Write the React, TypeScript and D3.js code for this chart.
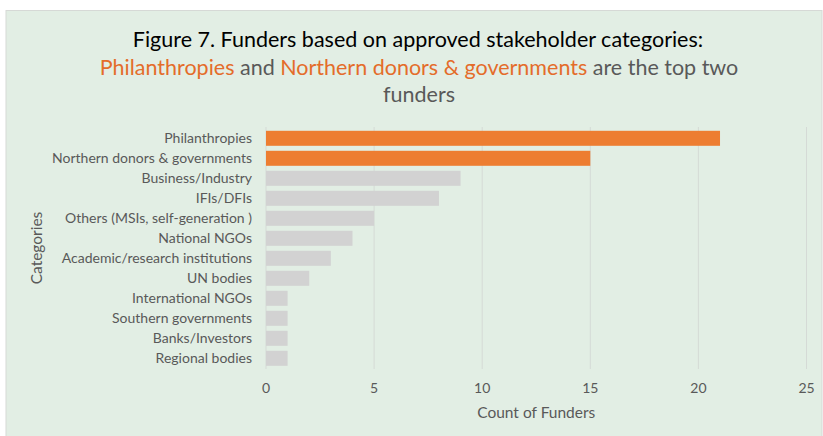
import React from "react";
import { scaleLinear, scaleBand } from "d3";

const categories = [
  "Philanthropies",
  "Northern donors & governments",
  "Business/Industry",
  "IFIs/DFIs",
  "Others (MSIs, self-generation )",
  "National NGOs",
  "Academic/research institutions",
  "UN bodies",
  "International NGOs",
  "Southern governments",
  "Banks/Investors",
  "Regional bodies",
];
const funders = [21, 15, 9, 8, 5, 4, 3, 2, 1, 1, 1, 1];
const highlighted = ["Philanthropies", "Northern donors & governments"];
const xTicks = [0, 5, 10, 15, 20, 25];

const W = 823;
const H = 436;
const FONT = "Lato, 'Open Sans', sans-serif";
const GREY_TEXT = "#595959";
const ORANGE = "#ED7D31";

const App = () => {
  const x = scaleLinear().domain([0, 25]).range([266, 806.5]);
  const y = scaleBand()
    .domain(categories)
    .range([128.3, 368.3])
    .paddingInner(0.25)
    .paddingOuter(0.125);

  return (
    <svg
      width={W}
      height={H}
      style={{ position: "absolute", left: 0, top: 0 }}
      fontFamily={FONT}
    >
      <rect x={0} y={0} width={W} height={H} fill="#fff" />
      <rect
        x={6}
        y={10.5}
        width={816}
        height={430}
        fill="#E2EEE4"
        stroke="#D6D9D6"
        strokeWidth={1}
      />

      {/* title */}
      <text x={418} y={47} textAnchor="middle" fontSize={21.5} fill="#000">
        Figure 7. Funders based on approved stakeholder categories:
      </text>
      <text x={419} y={75} textAnchor="middle" fontSize={21.5} fill={GREY_TEXT}>
        <tspan fill="#E46C2A">Philanthropies</tspan> and{" "}
        <tspan fill="#E46C2A">Northern donors &amp; governments</tspan> are the
        top two
      </text>
      <text x={419} y={102} textAnchor="middle" fontSize={21.5} fill={GREY_TEXT}>
        funders
      </text>

      {/* gridlines */}
      {xTicks.map((t) => (
        <line
          key={t}
          x1={x(t)}
          x2={x(t)}
          y1={127}
          y2={369}
          stroke="#D5DAD6"
          strokeWidth={1}
        />
      ))}

      {/* bars */}
      {categories.map((c, i) => (
        <rect
          key={c}
          x={x(0)}
          y={y(c)}
          width={x(funders[i]) - x(0)}
          height={y.bandwidth()}
          fill={highlighted.includes(c) ? ORANGE : "#D2D2D2"}
        />
      ))}

      {/* category labels */}
      {categories.map((c) => (
        <text
          key={c}
          x={252}
          y={(y(c) ?? 0) + y.bandwidth() / 2 + 5}
          textAnchor="end"
          fontSize={14}
          fill={GREY_TEXT}
        >
          {c}
        </text>
      ))}

      {/* x tick labels */}
      {xTicks.map((t) => (
        <text
          key={t}
          x={x(t)}
          y={393}
          textAnchor="middle"
          fontSize={14}
          fill={GREY_TEXT}
        >
          {t}
        </text>
      ))}

      <text
        x={(x(0) + x(25)) / 2}
        y={418}
        textAnchor="middle"
        fontSize={15.5}
        fill={GREY_TEXT}
      >
        Count of Funders
      </text>
      <text
        transform={`translate(42, 248) rotate(-90)`}
        textAnchor="middle"
        fontSize={15.5}
        fill={GREY_TEXT}
      >
        Categories
      </text>
    </svg>
  );
};

export default App;
